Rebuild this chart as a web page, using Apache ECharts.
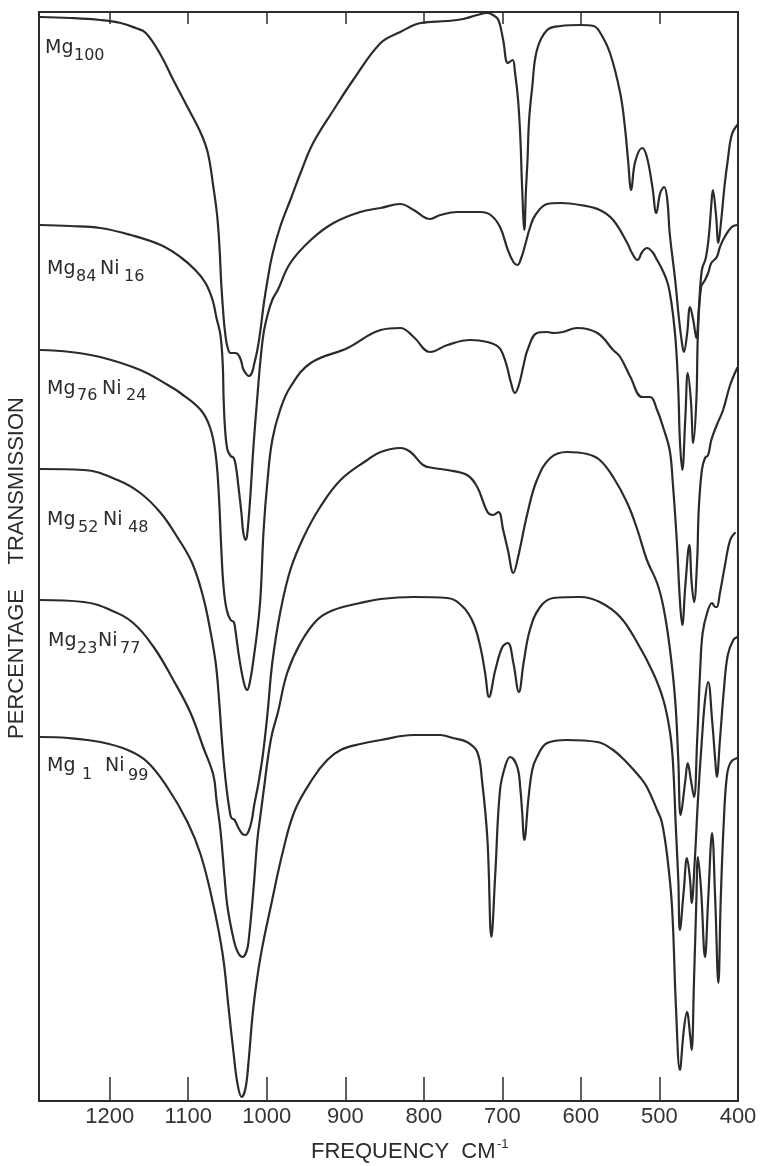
<!DOCTYPE html>
<html>
<head>
<meta charset="utf-8">
<script src="https://cdn.jsdelivr.net/npm/echarts/dist/echarts.min.js"></script>
<style>html,body{margin:0;padding:0;background:#fff}#c{width:761px;height:1166px}</style>
</head>
<body>
<div id="c"></div>
<script>
// Frequency axis (cm^-1), high to low
const FREQ_MIN = 400;
const FREQ_MAX = 1290;
const TICK_STEP = 100;
const TRANS_MAX = 1089; // arbitrary stacked transmission units

// [frequency, transmission] for each sample (curves are offset vertically)
const MG100 = [[1289,1084],[1250,1083],[1212,1081],[1186,1078],[1167,1073],[1154,1068],[1135,1046],[1119,1021],[1101,994],[1084,968],[1075,948],[1068,914],[1063,884],[1060,851],[1058,818],[1055,784],[1053,768],[1050,754],[1046,748],[1041,748],[1037,747],[1033,741],[1030,732],[1026,727],[1023,725],[1019,728],[1016,737],[1012,751],[1008,771],[1004,796],[999,821],[993,846],[983,874],[970,901],[957,928],[941,958],[915,991],[890,1021],[855,1058],[830,1069],[804,1078],[770,1080],[750,1082],[732,1086],[719,1088],[712,1086],[705,1081],[699,1061],[693,1038],[687,1041],[684,1029],[680,1001],[677,961],[675,916],[672,871],[670,911],[668,941],[666,981],[662,1014],[656,1051],[643,1071],[626,1075],[601,1076],[584,1075],[576,1069],[563,1048],[550,1008],[544,974],[540,941],[536,911],[531,939],[522,953],[516,944],[509,914],[504,888],[499,908],[494,914],[490,901],[487,868],[480,821],[475,781],[471,756],[469,749],[465,766],[461,794],[457,781],[453,763],[450,791],[446,831],[441,843],[437,866],[434,896],[432,911],[428,886],[425,858],[422,876],[417,916],[413,941],[408,966],[401,976]];

const MG84NI16 = [[1289,876],[1250,875],[1212,873],[1173,866],[1135,856],[1110,844],[1091,831],[1078,818],[1069,801],[1064,783],[1059,766],[1056,736],[1055,704],[1053,671],[1050,651],[1046,645],[1042,643],[1039,633],[1036,614],[1032,586],[1030,569],[1027,561],[1025,566],[1021,604],[1017,654],[1012,704],[1008,741],[1004,768],[999,786],[993,801],[986,811],[970,838],[944,861],[915,878],[881,889],[855,893],[830,897],[813,891],[792,882],[779,886],[757,889],[728,889],[715,886],[703,874],[693,851],[686,839],[681,836],[676,843],[671,856],[665,873],[658,886],[643,897],[626,898],[601,896],[576,891],[559,881],[541,858],[535,848],[528,841],[522,849],[516,853],[509,849],[503,841],[495,829],[490,819],[487,809],[483,788],[479,756],[476,711],[474,661],[471,631],[467,684],[464,728],[460,701],[457,658],[453,701],[451,768],[447,814],[442,821],[438,828],[434,838],[427,844],[423,854],[417,864],[408,874],[401,876]];

const MG76NI24 = [[1289,751],[1250,749],[1212,744],[1161,731],[1126,716],[1110,708],[1084,691],[1072,673],[1065,646],[1061,606],[1058,554],[1055,514],[1051,491],[1046,481],[1042,479],[1040,471],[1036,448],[1032,429],[1028,415],[1025,411],[1021,421],[1017,441],[1012,471],[1008,504],[1004,571],[999,621],[993,661],[983,691],[970,714],[944,738],[897,753],[855,771],[830,773],[813,764],[792,749],[770,756],[741,761],[719,759],[705,754],[699,746],[694,734],[689,718],[684,708],[679,716],[673,736],[668,751],[656,768],[643,769],[635,768],[623,769],[605,773],[579,768],[559,751],[550,744],[537,724],[522,704],[512,704],[503,691],[495,673],[487,651],[483,618],[478,561],[474,501],[471,476],[467,516],[462,556],[459,518],[456,499],[452,541],[450,591],[446,631],[442,643],[438,646],[434,661],[427,676],[419,691],[410,716],[401,733]];

const MG52NI48 = [[1289,632],[1233,631],[1190,621],[1161,608],[1135,588],[1114,564],[1095,538],[1081,504],[1072,471],[1065,438],[1061,404],[1058,371],[1055,341],[1051,311],[1047,289],[1045,283],[1041,281],[1036,273],[1031,267],[1027,266],[1023,270],[1019,281],[1016,296],[1011,316],[1005,346],[999,388],[993,438],[983,488],[970,531],[953,564],[932,594],[906,621],[872,641],[855,649],[830,653],[817,649],[801,636],[788,633],[770,631],[745,626],[732,614],[719,589],[712,586],[705,589],[699,571],[693,551],[686,528],[680,544],[668,588],[656,621],[639,643],[618,649],[592,647],[576,641],[559,624],[541,598],[528,571],[516,541],[503,518],[495,494],[487,454],[480,401],[476,341],[473,286],[467,321],[464,338],[460,321],[456,304],[452,361],[448,434],[445,468],[439,489],[433,498],[429,494],[427,494],[423,508],[417,534],[410,561],[404,568]];

const MG23NI77 = [[1289,501],[1233,499],[1199,491],[1170,478],[1144,454],[1119,421],[1097,388],[1081,354],[1068,326],[1064,301],[1059,271],[1054,226],[1050,194],[1042,161],[1037,149],[1031,144],[1026,149],[1023,161],[1017,211],[1012,261],[1008,286],[1003,316],[998,346],[993,368],[986,388],[974,428],[957,458],[936,481],[915,491],[881,498],[855,502],[813,504],[770,503],[750,494],[737,478],[728,454],[722,428],[717,404],[709,431],[700,454],[693,458],[686,438],[679,409],[673,438],[665,471],[652,494],[635,503],[601,504],[576,499],[550,484],[528,458],[508,428],[495,401],[487,371],[483,341],[479,271],[476,221],[474,171],[469,211],[465,243],[461,221],[459,198],[455,241],[451,301],[446,361],[442,401],[438,419],[433,381],[429,341],[427,324],[423,361],[418,411],[413,446],[406,461],[401,464]];

const MG1NI99 = [[1289,364],[1253,363],[1212,359],[1177,351],[1152,339],[1126,313],[1101,279],[1084,246],[1068,196],[1056,146],[1049,96],[1042,46],[1037,16],[1032,4],[1027,13],[1023,41],[1017,94],[1008,144],[995,194],[979,251],[964,291],[941,323],[923,341],[906,351],[881,357],[855,361],[813,366],[779,366],[763,363],[745,359],[732,349],[726,321],[719,261],[714,164],[709,228],[703,311],[696,336],[690,344],[681,334],[677,311],[675,291],[672,261],[667,301],[662,331],[656,344],[643,358],[618,361],[579,359],[559,351],[541,338],[525,324],[516,314],[503,291],[497,279],[490,244],[484,194],[479,94],[474,31],[469,71],[465,89],[461,66],[459,51],[456,121],[453,201],[451,244],[447,211],[442,144],[438,201],[433,268],[429,201],[425,118],[422,201],[418,281],[414,326],[409,339],[401,343]];

const SERIES_NAMES = ['Mg100','Mg84Ni16','Mg76Ni24','Mg52Ni48','Mg23Ni77','Mg1Ni99'];
const SERIES_DATA = [MG100, MG84NI16, MG76NI24, MG52NI48, MG23NI77, MG1NI99];

// label pieces: [text, isSubscript]
const LABEL_PARTS = [
  [['Mg',0],['100',1]],
  [['Mg',0],['84',1],['Ni',0],['16',1]],
  [['Mg',0],['76',1],['Ni',0],['24',1]],
  [['Mg',0],['52',1],['Ni',0],['48',1]],
  [['Mg',0],['23',1],['Ni',0],['77',1]],
  [['Mg',0],['1',1],['Ni',0],['99',1]]
];
const X_NAME = 'FREQUENCY  CM';
const X_NAME_SUP = '-1';
const Y_NAME = 'PERCENTAGE    TRANSMISSION';

const INK = '#2b2b2b';
const FONT = '"Liberation Sans", Arial, sans-serif';
const LFONT = '"DejaVu Sans", "Liberation Sans", sans-serif';

// layout for sample labels: [x, y] of each piece
const LABEL_POS = [
  [[45,48],[74,56]],
  [[47,269],[76,277],[100,269],[124,277]],
  [[47,389],[77,396],[102,389],[126,396]],
  [[47,520],[78,528],[103,520],[128,528]],
  [[48,641],[77,649],[98,641],[120,649]],
  [[47,766],[82,775],[105,766],[128,776]]
];

const graphics = [];
LABEL_PARTS.forEach((parts, i) => {
  parts.forEach((p, j) => {
    graphics.push({
      type: 'text', silent: true,
      x: LABEL_POS[i][j][0], y: LABEL_POS[i][j][1],
      style: { text: p[0], fontSize: p[1] ? 16 : 19, fontFamily: LFONT, fill: INK,
               align: 'left', verticalAlign: 'middle' }
    });
  });
});
graphics.push({
  type: 'text', silent: true, x: 311, y: 1152,
  style: { text: X_NAME, fontSize: 22, fontFamily: FONT, fill: INK, align: 'left', verticalAlign: 'middle' }
});
graphics.push({
  type: 'text', silent: true, x: 497, y: 1144,
  style: { text: X_NAME_SUP, fontSize: 13, fontFamily: FONT, fill: INK, align: 'left', verticalAlign: 'middle' }
});
graphics.push({
  type: 'text', silent: true, x: 17, y: 568, rotation: Math.PI / 2,
  style: { text: Y_NAME, fontSize: 22, fontFamily: FONT, fill: INK, align: 'center', verticalAlign: 'middle' }
});

const chart = echarts.init(document.getElementById('c'), null, { renderer: 'canvas' });
const xCommon = {
  type: 'value', min: FREQ_MIN, max: FREQ_MAX, interval: TICK_STEP, inverse: true,
  splitLine: { show: false },
  axisLine: { show: true, lineStyle: { color: INK, width: 2 } }
};
chart.setOption({
  animation: false,
  backgroundColor: '#ffffff',
  grid: { left: 39, right: 23, top: 12, bottom: 65, containLabel: false, outerBoundsMode: 'none',
          show: true, borderColor: INK, borderWidth: 2, backgroundColor: 'transparent' },
  xAxis: [
    Object.assign({}, xCommon, {
      position: 'bottom',
      axisTick: { show: true, inside: true, length: 24, lineStyle: { color: INK, width: 1.5 } },
      axisLabel: {
        show: true, margin: 5, fontSize: 22, fontFamily: FONT, color: '#333',
        formatter: v => (v % TICK_STEP === 0 ? String(v) : '')
      }
    }),
    Object.assign({}, xCommon, {
      position: 'top',
      axisTick: { show: true, inside: true, length: 12, lineStyle: { color: INK, width: 1.5 } },
      axisLabel: { show: false }
    })
  ],
  yAxis: { type: 'value', min: 0, max: TRANS_MAX, show: false, splitLine: { show: false } },
  graphic: graphics,
  series: SERIES_DATA.map((d, i) => ({
    name: SERIES_NAMES[i], type: 'line', data: d, xAxisIndex: 0,
    showSymbol: false, symbol: 'none', smooth: 0.4,
    lineStyle: { color: INK, width: 2.2, join: 'round', cap: 'round' }, silent: true
  }))
});
</script>
</body>
</html>
